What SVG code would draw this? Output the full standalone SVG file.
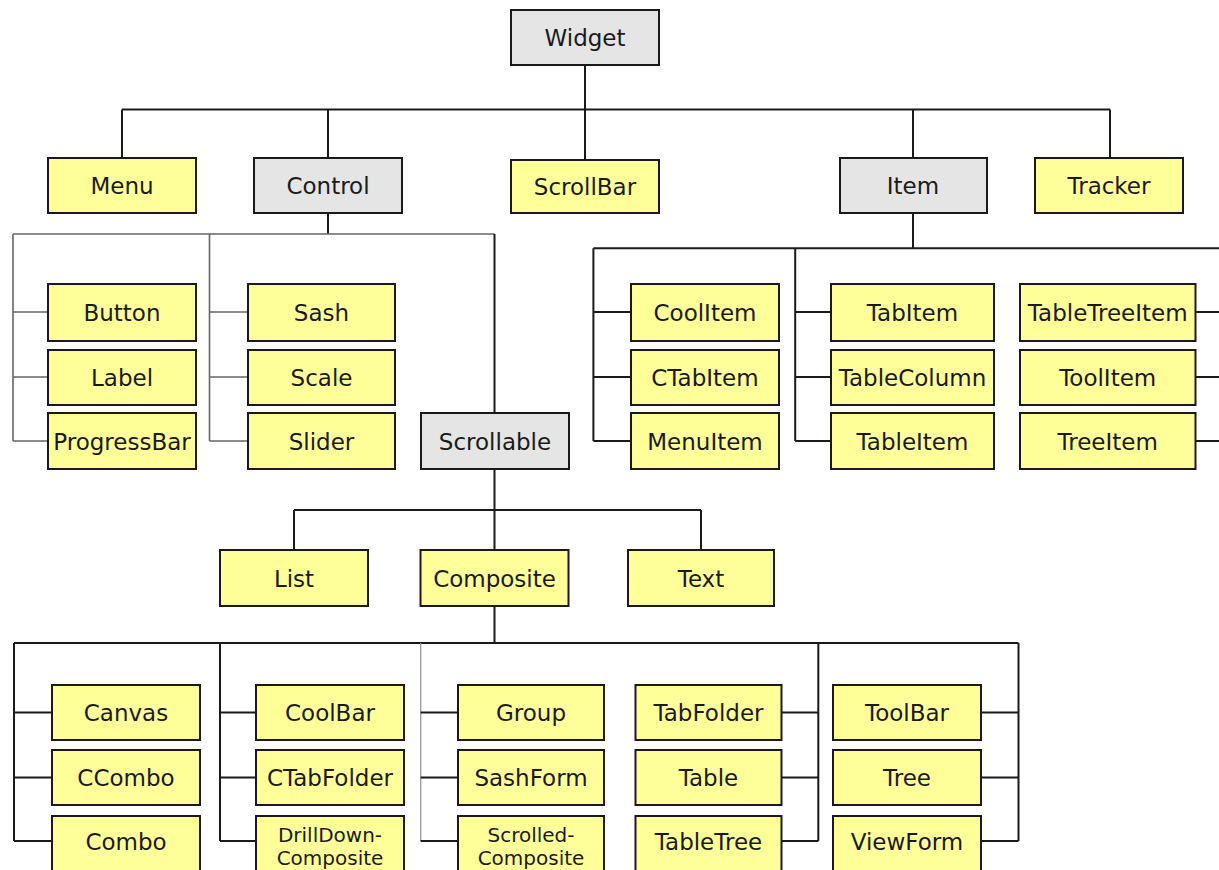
<svg xmlns="http://www.w3.org/2000/svg" width="1219" height="870" viewBox="0 0 1219 870">
<style>
  .n rect { fill: #ffff99; stroke: #1a1a1a; stroke-width: 2; }
  .g rect { fill: #e5e5e5; stroke: #1a1a1a; stroke-width: 2; }
  text { font-family: "DejaVu Sans", "Liberation Sans", sans-serif; font-size: 23px; fill: #1a1a1a; text-anchor: middle; }
  text.two { font-size: 20px; }
  .c path { fill: none; stroke: #1a1a1a; stroke-width: 2; }
  .c path.lt { stroke: #666; stroke-width: 1.6; }
  .c path.thin { stroke: #999; stroke-width: 1.3; }
</style>
<rect width="1219" height="870" fill="#ffffff"/>
<g id="connectors" class="c">
  <path d="M585 65V109.5M122 109.5H1110M122 109.5V158M328 109.5V158M585 109.5V160M913 109.5V158M1110 109.5V158"/>
  <path d="M328 213V234"/>
  <path class="lt" d="M13 234H494.5M13 234V441M13 312H48M13 377H48M13 441H48M209.5 234V441M209.5 312H248M209.5 377H248M209.5 441H248"/>
  <path d="M494.5 234V413"/>
  <path d="M494.5 469V510M294 510H701M294 510V550M494.5 510V550M701 510V550"/>
  <path d="M494.5 606V643M14 643H1018.5"/>
  <path d="M14 643V841M14 712.5H52M14 777.5H52M14 841H52"/>
  <path d="M220 643V841M220 712.5H256M220 777.5H256M220 841H256"/>
  <path class="thin" d="M420.7 643V841"/>
  <path d="M420.7 712.5H458M420.7 777.5H458M420.7 841H458"/>
  <path d="M818.3 643V841M781.5 712.5H818.3M781.5 777.5H818.3M781.5 841H818.3"/>
  <path d="M1018.5 643V841M981 712.5H1018.5M981 777.5H1018.5M981 841H1018.5"/>
  <path d="M913 213V248.3M593.4 248.3H1219"/>
  <path d="M593.4 248.3V441M593.4 312H631M593.4 377H631M593.4 441H631"/>
  <path d="M795.2 248.3V441M795.2 312H831M795.2 377H831M795.2 441H831"/>
  <path d="M1195.5 312H1219M1195.5 377H1219M1195.5 441H1219"/>
</g>
<g id="widget" class="g"><rect x="511" y="10" width="148" height="55"/><text x="585" y="46">Widget</text></g>
<g id="menu" class="n"><rect x="48" y="158" width="148" height="55"/><text x="122" y="194">Menu</text></g>
<g id="control" class="g"><rect x="254" y="158" width="148" height="55"/><text x="328" y="194">Control</text></g>
<g id="scrollbar" class="n"><rect x="511" y="160" width="148" height="53"/><text x="585" y="195">ScrollBar</text></g>
<g id="item" class="g"><rect x="840" y="158" width="147" height="55"/><text x="913" y="194">Item</text></g>
<g id="tracker" class="n"><rect x="1035" y="158" width="148" height="55"/><text x="1109" y="194">Tracker</text></g>

<g id="button" class="n"><rect x="48" y="284" width="148" height="57"/><text x="122" y="321">Button</text></g>
<g id="label" class="n"><rect x="48" y="350" width="148" height="55"/><text x="122" y="386">Label</text></g>
<g id="progressbar" class="n"><rect x="48" y="413" width="148" height="56"/><text x="122" y="450">ProgressBar</text></g>
<g id="sash" class="n"><rect x="248" y="284" width="147" height="57"/><text x="321.5" y="321">Sash</text></g>
<g id="scale" class="n"><rect x="248" y="350" width="147" height="55"/><text x="321.5" y="386">Scale</text></g>
<g id="slider" class="n"><rect x="248" y="413" width="147" height="56"/><text x="321.5" y="450">Slider</text></g>
<g id="scrollable" class="g"><rect x="421" y="413" width="148" height="56"/><text x="495" y="450">Scrollable</text></g>

<g id="coolitem" class="n"><rect x="631" y="284" width="148" height="57"/><text x="705" y="321">CoolItem</text></g>
<g id="ctabitem" class="n"><rect x="631" y="350" width="148" height="55"/><text x="705" y="386">CTabItem</text></g>
<g id="menuitem" class="n"><rect x="631" y="413" width="148" height="56"/><text x="705" y="450">MenuItem</text></g>
<g id="tabitem" class="n"><rect x="831" y="284" width="163" height="57"/><text x="912.5" y="321">TabItem</text></g>
<g id="tablecolumn" class="n"><rect x="831" y="350" width="163" height="55"/><text x="912.5" y="386">TableColumn</text></g>
<g id="tableitem" class="n"><rect x="831" y="413" width="163" height="56"/><text x="912.5" y="450">TableItem</text></g>
<g id="tabletreeitem" class="n"><rect x="1020" y="284" width="175.5" height="57"/><text x="1107.7" y="321">TableTreeItem</text></g>
<g id="toolitem" class="n"><rect x="1020" y="350" width="175.5" height="55"/><text x="1107.7" y="386">ToolItem</text></g>
<g id="treeitem" class="n"><rect x="1020" y="413" width="175.5" height="56"/><text x="1107.7" y="450">TreeItem</text></g>

<g id="list" class="n"><rect x="220" y="550" width="148" height="56"/><text x="294" y="587">List</text></g>
<g id="composite" class="n"><rect x="420.5" y="550" width="148" height="56"/><text x="494.5" y="587">Composite</text></g>
<g id="text" class="n"><rect x="628" y="550" width="146" height="56"/><text x="701" y="587">Text</text></g>

<g id="canvas" class="n"><rect x="52" y="685" width="148" height="55"/><text x="126" y="721">Canvas</text></g>
<g id="ccombo" class="n"><rect x="52" y="750" width="148" height="55"/><text x="126" y="786">CCombo</text></g>
<g id="combo" class="n"><rect x="52" y="816" width="148" height="56"/><text x="126" y="850">Combo</text></g>
<g id="coolbar" class="n"><rect x="256" y="685" width="148" height="55"/><text x="330" y="721">CoolBar</text></g>
<g id="ctabfolder" class="n"><rect x="256" y="750" width="148" height="55"/><text x="330" y="786">CTabFolder</text></g>
<g id="drilldowncomposite" class="n"><rect x="256" y="816" width="148" height="56"/><text class="two" x="330" y="841.5">DrillDown-</text><text class="two" x="330" y="865">Composite</text></g>
<g id="group" class="n"><rect x="458" y="685" width="146" height="55"/><text x="531" y="721">Group</text></g>
<g id="sashform" class="n"><rect x="458" y="750" width="146" height="55"/><text x="531" y="786">SashForm</text></g>
<g id="scrolledcomposite" class="n"><rect x="458" y="816" width="146" height="56"/><text class="two" x="531" y="841.5">Scrolled-</text><text class="two" x="531" y="865">Composite</text></g>
<g id="tabfolder" class="n"><rect x="635.5" y="685" width="146" height="55"/><text x="708.5" y="721">TabFolder</text></g>
<g id="table" class="n"><rect x="635.5" y="750" width="146" height="55"/><text x="708.5" y="786">Table</text></g>
<g id="tabletree" class="n"><rect x="635.5" y="816" width="146" height="56"/><text x="708.5" y="850">TableTree</text></g>
<g id="toolbar" class="n"><rect x="833" y="685" width="148" height="55"/><text x="907" y="721">ToolBar</text></g>
<g id="tree" class="n"><rect x="833" y="750" width="148" height="55"/><text x="907" y="786">Tree</text></g>
<g id="viewform" class="n"><rect x="833" y="816" width="148" height="56"/><text x="907" y="850">ViewForm</text></g>
</svg>
